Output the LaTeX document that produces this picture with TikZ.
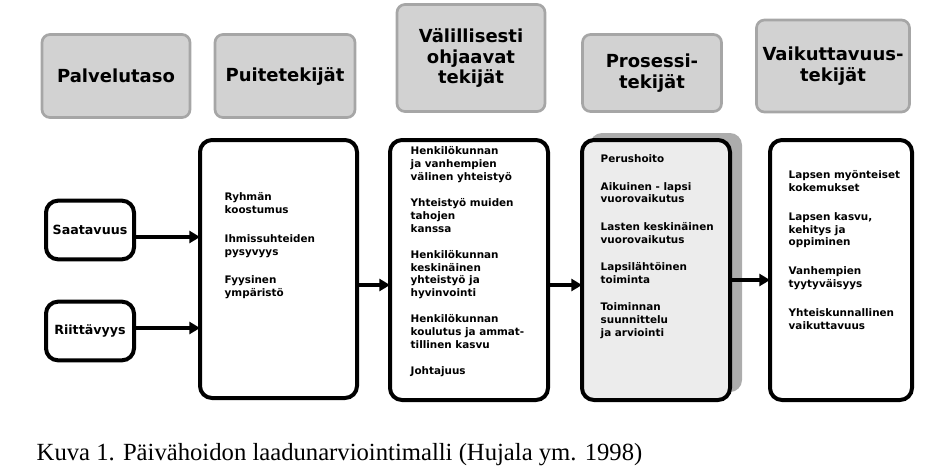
\documentclass[tikz,border=0pt]{standalone}
\usepackage{fontspec}
\setmainfont{Liberation Serif}
\newfontfamily\comicfont{DejaVu Sans}
\usetikzlibrary{arrows.meta}
\tikzset{
  head/.style={draw=gray!70,line width=2pt,fill=gray!35,rounded corners=6pt,
    font=\comicfont\bfseries\fontsize{13.5}{15.5}\selectfont,align=center},
  factorbox/.style={draw=black,line width=3pt,fill=white,rounded corners=9pt},
  itemtext/.style={font=\comicfont\bfseries\fontsize{7.8}{9.6}\selectfont,align=left,anchor=north west},
  flow/.style={-{Triangle[length=8pt,width=9pt]},line width=3pt}
}
\begin{document}
\begin{tikzpicture}[x=0.75pt,y=-0.75pt]
\useasboundingbox (0,0) rectangle (940,472);

%headers
\node[head,minimum width=148*0.75pt,minimum height=83*0.75pt] (hpalvelu) at (116,76) {Palvelutaso};
\node[head,minimum width=140*0.75pt,minimum height=83*0.75pt] (hpuite) at (285,76) {Puitetekijät};
\node[head,minimum width=148*0.75pt,minimum height=107*0.75pt] (hvalill) at (471,58) {Välillisesti\\ohjaavat\\tekijät};
\node[head,minimum width=139*0.75pt,minimum height=77*0.75pt] (hprosessi) at (652,73) {Prosessi-\\tekijät};
\node[head,minimum width=153*0.75pt,minimum height=92*0.75pt] (hvaikut) at (833,66) {Vaikuttavuus-\\tekijät};

%boxes
\node[factorbox,minimum width=66pt,minimum height=44pt,font=\comicfont\bfseries\fontsize{9.5}{11}\selectfont] (saatavuus) at (90,230) {Saatavuus};
\node[factorbox,minimum width=66pt,minimum height=44pt,font=\comicfont\bfseries\fontsize{9.5}{11}\selectfont] (riittavyys) at (90,331) {Riittävyys};

\draw[factorbox] (200,140) rectangle (357,398);
\coordinate (puiteE) at (357,285);
\draw[factorbox] (390,140) rectangle (548,400);
\coordinate (valillW) at (390,285);
\coordinate (valillE) at (548,285);
\fill[gray!65,rounded corners=9pt] (590,133) rectangle (742,392);
\draw[factorbox,fill=gray!15] (582,140) rectangle (730,400);
\coordinate (prosW) at (582,285);
\coordinate (prosE) at (730,280);
\draw[factorbox] (770,140) rectangle (912,400);
\coordinate (vaikW) at (770,280);

%texts
\node[itemtext] (tpuite) at (220,188) {Ryhmän\\koostumus\\[12pt]Ihmissuhteiden\\pysyvyys\\[12pt]Fyysinen\\ympäristö};
\node[itemtext] (tvalill) at (406,142) {Henkilökunnan\\ja vanhempien\\välinen yhteistyö\\[10pt]Yhteistyö muiden\\tahojen\\kanssa\\[10pt]Henkilökunnan\\keskinäinen\\yhteistyö ja\\hyvinvointi\\[10pt]Henkilökunnan\\koulutus ja ammat-\\tillinen kasvu\\[10pt]Johtajuus};
\node[itemtext] (tpros) at (596,150) {Perushoito\\[11pt]Aikuinen - lapsi\\vuorovaikutus\\[11pt]Lasten keskinäinen\\vuorovaikutus\\[11pt]Lapsilähtöinen\\toiminta\\[11pt]Toiminnan\\suunnittelu\\ja arviointi};
\node[itemtext] (tvaik) at (784,166) {Lapsen myönteiset\\kokemukset\\[12pt]Lapsen kasvu,\\kehitys ja\\oppiminen\\[12pt]Vanhempien\\tyytyväisyys\\[12pt]Yhteiskunnallinen\\vaikuttavuus};

%arrows
\draw[flow] (saatavuus.east |- 0,237) -- (200,237);
\draw[flow] (riittavyys.east |- 0,328) -- (200,328);
\draw[flow] (puiteE) -- (valillW);
\draw[flow] (valillE) -- (prosW);
\draw[flow] (prosE) -- (vaikW);

\node[anchor=west,font=\fontsize{18.5}{20}\selectfont] (caption) at (32,455) {Kuva 1. Päivähoidon laadunarviointimalli (Hujala ym. 1998)};
\end{tikzpicture}
\end{document}
